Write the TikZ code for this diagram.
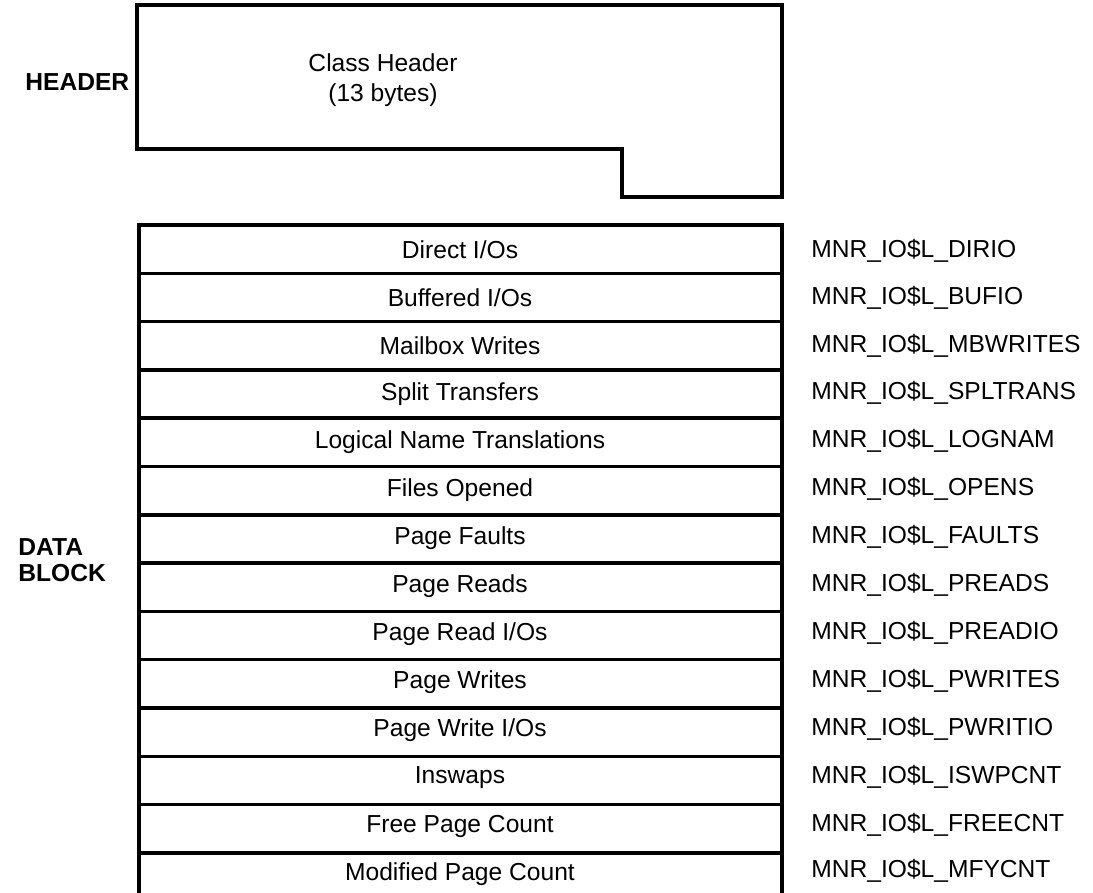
\documentclass[tikz,border=0pt]{standalone}
\usepackage{fontspec}
\setmainfont{Liberation Sans}
\usepackage{tikz}

\tikzset{
    blockline/.style={line width=2pt, line join=miter},
    fieldtext/.style={font=\fontsize{14}{16}\selectfont, inner sep=0pt},
    symtext/.style={font=\fontsize{14}{16}\selectfont, inner sep=0pt, anchor=west},
    sidetext/.style={font=\bfseries\fontsize{14}{14.6}\selectfont, inner sep=0pt, anchor=west, align=left}
}

\begin{document}
\begin{tikzpicture}[x=0.02cm, y=-0.02cm]

        \useasboundingbox (0,0) rectangle (1093,893);

        % header block
        \draw[blockline] (137,5) -- (782,5) -- (782,197) -- (622,197) -- (622,149) -- (137,149) -- cycle;
        \node[fieldtext, align=center] (classhdr) at (383,80) {Class Header\\[1pt](13 bytes)};
        \node[sidetext] (hdrside) at (25,82) {HEADER};

        % data block
        \draw[blockline] (139,893) -- (139,225) -- (782,225) -- (782,893);
        \draw[blockline] (139,273.3) -- (782,273.3);
        \draw[blockline] (139,321.6) -- (782,321.6);
        \draw[blockline] (139,369.9) -- (782,369.9);
        \draw[blockline] (139,418.2) -- (782,418.2);
        \draw[blockline] (139,466.5) -- (782,466.5);
        \draw[blockline] (139,514.8) -- (782,514.8);
        \draw[blockline] (139,563.1) -- (782,563.1);
        \draw[blockline] (139,611.4) -- (782,611.4);
        \draw[blockline] (139,659.7) -- (782,659.7);
        \draw[blockline] (139,708.0) -- (782,708.0);
        \draw[blockline] (139,756.3) -- (782,756.3);
        \draw[blockline] (139,804.6) -- (782,804.6);
        \draw[blockline] (139,852.9) -- (782,852.9);

        \node[sidetext] (dataside) at (18,560) {DATA\\BLOCK};

        \node[fieldtext] (dirio) at (460,250) {Direct I/Os};
        \node[fieldtext] (bufio) at (460,298) {Buffered I/Os};
        \node[fieldtext] (mbwrites) at (460,346) {Mailbox Writes};
        \node[fieldtext] (spltrans) at (460,394) {Split Transfers};
        \node[fieldtext] (lognam) at (460,442) {Logical Name Translations};
        \node[fieldtext] (opens) at (460,490) {Files Opened};
        \node[fieldtext] (faults) at (460,538) {Page Faults};
        \node[fieldtext] (preads) at (460,586) {Page Reads};
        \node[fieldtext] (preadio) at (460,634) {Page Read I/Os};
        \node[fieldtext] (pwrites) at (460,682) {Page Writes};
        \node[fieldtext] (pwritio) at (460,730) {Page Write I/Os};
        \node[fieldtext] (iswpcnt) at (460,778) {Inswaps};
        \node[fieldtext] (freecnt) at (460,826) {Free Page Count};
        \node[fieldtext] (mfycnt) at (460,874) {Modified Page Count};

        \node[symtext] (dirioname) at (811,251) {MNR\_IO\$L\_DIRIO};
        \node[symtext] (bufioname) at (811,298) {MNR\_IO\$L\_BUFIO};
        \node[symtext] (mbwritesname) at (811,346) {MNR\_IO\$L\_MBWRITES};
        \node[symtext] (spltransname) at (811,393) {MNR\_IO\$L\_SPLTRANS};
        \node[symtext] (lognamname) at (811,441) {MNR\_IO\$L\_LOGNAM};
        \node[symtext] (opensname) at (811,489) {MNR\_IO\$L\_OPENS};
        \node[symtext] (faultsname) at (811,537) {MNR\_IO\$L\_FAULTS};
        \node[symtext] (preadsname) at (811,585) {MNR\_IO\$L\_PREADS};
        \node[symtext] (preadioname) at (811,633) {MNR\_IO\$L\_PREADIO};
        \node[symtext] (pwritesname) at (811,681) {MNR\_IO\$L\_PWRITES};
        \node[symtext] (pwritioname) at (811,729) {MNR\_IO\$L\_PWRITIO};
        \node[symtext] (iswpcntname) at (811,777) {MNR\_IO\$L\_ISWPCNT};
        \node[symtext] (freecntname) at (811,825) {MNR\_IO\$L\_FREECNT};
        \node[symtext] (mfycntname) at (811,871) {MNR\_IO\$L\_MFYCNT};
    \end{tikzpicture}
\end{document}
